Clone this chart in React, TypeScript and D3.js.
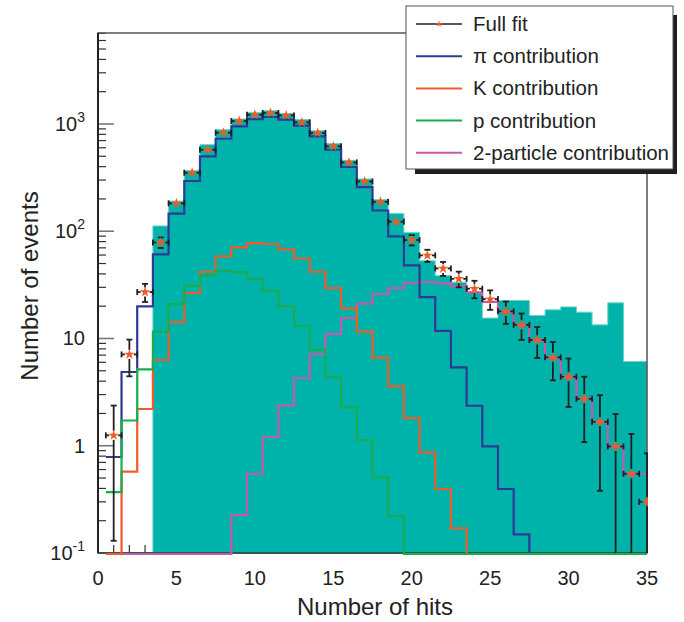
import React from "react";
import * as d3 from "d3";

// bins 1..35 (centered on integers, width 1)
const bins = d3.range(1, 36);
const dataHist = [0, 0, 0, 112, 191, 369, 641, 884, 1112, 1282, 1330, 1250, 1100, 865, 656, 458, 307, 197, 146, 97.5, 53, 38.5, 33.5, 27, 15.5, 22.6, 22.6, 16.4, 18.5, 19.7, 17.6, 13.4, 21.5, 6.1, 6.1];
const piContrib = [0.785, 4.87, 19.9, 60.8, 146, 294, 498, 728, 948, 1112, 1161, 1096, 964, 766, 575, 397, 258, 156, 89.5, 48, 24.3, 11.8, 5.37, 2.36, 0.985, 0.395, 0.149, 0, 0, 0, 0, 0, 0, 0, 0];
const kContrib = [0, 0.573, 2.2, 6.3, 14.2, 26.5, 41.9, 58.2, 70.6, 77.6, 76, 67.6, 55.7, 41.9, 29.5, 19.1, 11.6, 6.62, 3.57, 1.81, 0.866, 0.395, 0.17, 0, 0, 0, 0, 0, 0, 0, 0, 0, 0, 0, 0];
const pContrib = [0.37, 1.72, 5.15, 11.6, 21, 31, 38.7, 42.8, 41.3, 35.8, 27.9, 19.9, 13.1, 7.85, 4.4, 2.28, 1.12, 0.51, 0.22, 0, 0, 0, 0, 0, 0, 0, 0, 0, 0, 0, 0, 0, 0, 0, 0];
const twoContrib = [0, 0, 0, 0, 0, 0, 0, 0, 0.226, 0.548, 1.2, 2.38, 4.28, 7.16, 11.0, 15.5, 21.1, 26, 29.5, 32.9, 33.8, 32.6, 30.6, 26.9, 21.9, 17.7, 13.3, 9.53, 6.57, 4.33, 2.76, 1.67, 0.985, 0.548, 0.548];
const fullFit = [1.25, 7.1, 27.1, 78.6, 182, 351, 575, 829, 1065, 1220, 1266, 1202, 1035, 824, 618, 438, 291, 188, 123, 82.8, 59.5, 45, 36, 29.1, 23.3, 17.9, 13.4, 9.68, 6.67, 4.4, 2.74, 1.67, 0.985, 0.548, 0.3];
const fullFitErr = [1.12, 2.66, 5.2, 8.87, 13.5, 18.7, 24, 28.8, 32.6, 34.9, 35.6, 34.7, 32.2, 28.7, 24.9, 20.9, 17.1, 13.7, 11.1, 9.1, 7.7, 6.7, 6.0, 5.4, 4.8, 4.2, 3.7, 3.1, 2.6, 2.1, 1.66, 1.29, 0.99, 0.74, 0.55];

const xTickMajor = [0, 5, 10, 15, 20, 25, 30, 35];
const yTickLabels = [
  { v: 0.1, base: "10", sup: "-1" },
  { v: 1, base: "1", sup: "" },
  { v: 10, base: "10", sup: "" },
  { v: 100, base: "10", sup: "2" },
  { v: 1000, base: "10", sup: "3" },
];
const legendItems = [
  { label: "Full fit", color: "#231f20", marker: true },
  { label: "\u03c0 contribution", color: "#2e3a94", marker: false },
  { label: "K contribution", color: "#f15a29", marker: false },
  { label: "p contribution", color: "#19ad4f", marker: false },
  { label: "2-particle contribution", color: "#c858a8", marker: false },
];

const W = 684, H = 622;
const L = 98, R = 647, T = 33, B = 553;
const FONT = "'Liberation Sans', Arial, Helvetica, sans-serif";
const TEAL = "#00b3aa";

export default function App() {
  const x = d3.scaleLinear().domain([0, 35]).range([L, R]);
  const y = d3.scaleLog().domain([0.1, 7050]).range([B, T]);
  const yv = (v: number) => (v <= 0.1 ? B + 1 : y(v));

  const stepPts = (vals: number[]) => {
    const pts: [number, number][] = bins.map((b, i) => [b - 0.5, vals[i]]);
    pts.push([35, vals[vals.length - 1]]);
    return pts;
  };
  const line = d3
    .line<[number, number]>()
    .x((d) => x(d[0]))
    .y((d) => yv(d[1]))
    .curve(d3.curveStepAfter);
  const area = d3
    .area<[number, number]>()
    .x((d) => x(d[0]))
    .y0(B)
    .y1((d) => (d[1] <= 0 ? B : yv(d[1])))
    .curve(d3.curveStepAfter);

  const minorY: number[] = [];
  for (let k = -1; k <= 3; k++) {
    for (let m = 2; m <= 9; m++) {
      const v = m * Math.pow(10, k);
      if (v < 7050) minorY.push(v);
    }
  }
  const minorX = d3.range(0, 36).filter((v) => v % 5 !== 0);

  const star = d3.symbol().type(d3.symbolStar).size(34)() as string;
  const gap = 4.5;
  const cap = 3;

  const lines = [
    { vals: twoContrib, color: legendItems[4].color },
    { vals: piContrib, color: legendItems[1].color },
    { vals: kContrib, color: legendItems[2].color },
    { vals: pContrib, color: legendItems[3].color },
  ];

  return (
    <svg width={W} height={H} style={{ position: "absolute", left: 0, top: 0, background: "#fff" }} fontFamily={FONT}>
      <defs>
        <clipPath id="plot">
          <rect x={L} y={T - 2} width={R - L + 1} height={B - T + 4} />
        </clipPath>
      </defs>
      {/* ticks */}
      <g stroke="#333" strokeWidth={1.2}>
        {yTickLabels.map((t) => (
          <line key={"ym" + t.v} x1={L} x2={L + 16} y1={y(t.v)} y2={y(t.v)} stroke="#777" strokeWidth={1.6} />
        ))}
        {minorY.map((v) => (
          <line key={"yn" + v} x1={L} x2={L + 8} y1={y(v)} y2={y(v)} />
        ))}
        {xTickMajor.map((v) => (
          <line key={"xm" + v} x1={x(v)} x2={x(v)} y1={B} y2={B - 16} />
        ))}
        {minorX.map((v) => (
          <line key={"xn" + v} x1={x(v)} x2={x(v)} y1={B} y2={B - 8} />
        ))}
      </g>
      {/* data histogram fill */}
      <g clipPath="url(#plot)">
        <path d={area(stepPts(dataHist)) as string} fill={TEAL} stroke="#6fd3cb" strokeWidth={1} />
      </g>
      {/* frame */}
      <rect x={L} y={T} width={R - L} height={B - T} fill="none" stroke="#555" strokeWidth={1.5} />
      <line x1={L} x2={L} y1={T} y2={B} stroke="#222" strokeWidth={2} />
      <line x1={L} x2={R} y1={B} y2={B} stroke="#1f4f4c" strokeWidth={1.5} />
      {/* component lines */}
      <g clipPath="url(#plot)" fill="none" strokeWidth={2.2}>
        {lines.map((l, i) => (
          <path key={i} d={line(stepPts(l.vals)) as string} stroke={l.color} />
        ))}
      </g>
      {/* full fit points with errors */}
      <g clipPath="url(#plot)" stroke="#231f20" strokeWidth={1.8}>
        {bins.map((b, i) => {
          const cx = x(b);
          const cy = yv(fullFit[i]);
          const xl = x(b - 0.5);
          const xr = Math.min(x(b + 0.5), R);
          const yt = y(fullFit[i] + fullFitErr[i]);
          const lo = fullFit[i] - fullFitErr[i];
          const yb = lo <= 0.1 ? B : y(lo);
          return (
            <g key={b}>
              <line x1={xl} x2={cx - gap} y1={cy} y2={cy} />
              {xr > cx + gap && <line x1={cx + gap} x2={xr} y1={cy} y2={cy} />}
              <line x1={xl} x2={xl} y1={cy - cap} y2={cy + cap} />
              {b < 35 && <line x1={xr} x2={xr} y1={cy - cap} y2={cy + cap} />}
              {cy - yt > gap && <line x1={cx} x2={cx} y1={yt} y2={cy - gap} />}
              {yb - cy > gap && <line x1={cx} x2={cx} y1={cy + gap} y2={yb} />}
              {cy - yt > gap && <line x1={cx - cap} x2={cx + cap} y1={yt} y2={yt} />}
              {yb - cy > gap && lo > 0.1 && <line x1={cx - cap} x2={cx + cap} y1={yb} y2={yb} />}
              <path d={star} transform={`translate(${cx},${cy})`} fill="#f15a24" stroke="none" />
            </g>
          );
        })}
      </g>
      {/* y tick labels */}
      <g fontSize={20} fill="#222" textAnchor="end">
        {yTickLabels.map((t) => (
          <text key={t.v} x={85} y={y(t.v) + 7}>
            {t.base}
            {t.sup && (
              <tspan fontSize={14} dy={-9}>
                {t.sup}
              </tspan>
            )}
          </text>
        ))}
      </g>
      {/* x tick labels */}
      <g fontSize={20} fill="#222" textAnchor="middle">
        {xTickMajor.map((v) => (
          <text key={v} x={x(v)} y={585}>
            {v}
          </text>
        ))}
      </g>
      <text x={375} y={615} fontSize={24} textAnchor="middle" fill="#222">
        Number of hits
      </text>
      <text transform="translate(38,286) rotate(-90)" fontSize={24} textAnchor="middle" fill="#222">
        Number of events
      </text>
      {/* legend */}
      <rect x={415} y={15} width={262} height={159} fill="#231f20" />
      <rect x={406} y={6} width={267} height={163} fill="#fff" stroke="#555" strokeWidth={1} />
      {legendItems.map((it, i) => {
        const ly = 24 + i * 32.2;
        return (
          <g key={it.label}>
            <line x1={416} x2={462} y1={ly} y2={ly} stroke={it.color} strokeWidth={it.marker ? 1.5 : 2} />
            {it.marker && <path d={d3.symbol().type(d3.symbolStar).size(14)() as string} transform={`translate(439,${ly})`} fill="#f15a24" />}
            <text x={473} y={ly + 7} fontSize={20.5} fill="#222">
              {it.label}
            </text>
          </g>
        );
      })}
    </svg>
  );
}
